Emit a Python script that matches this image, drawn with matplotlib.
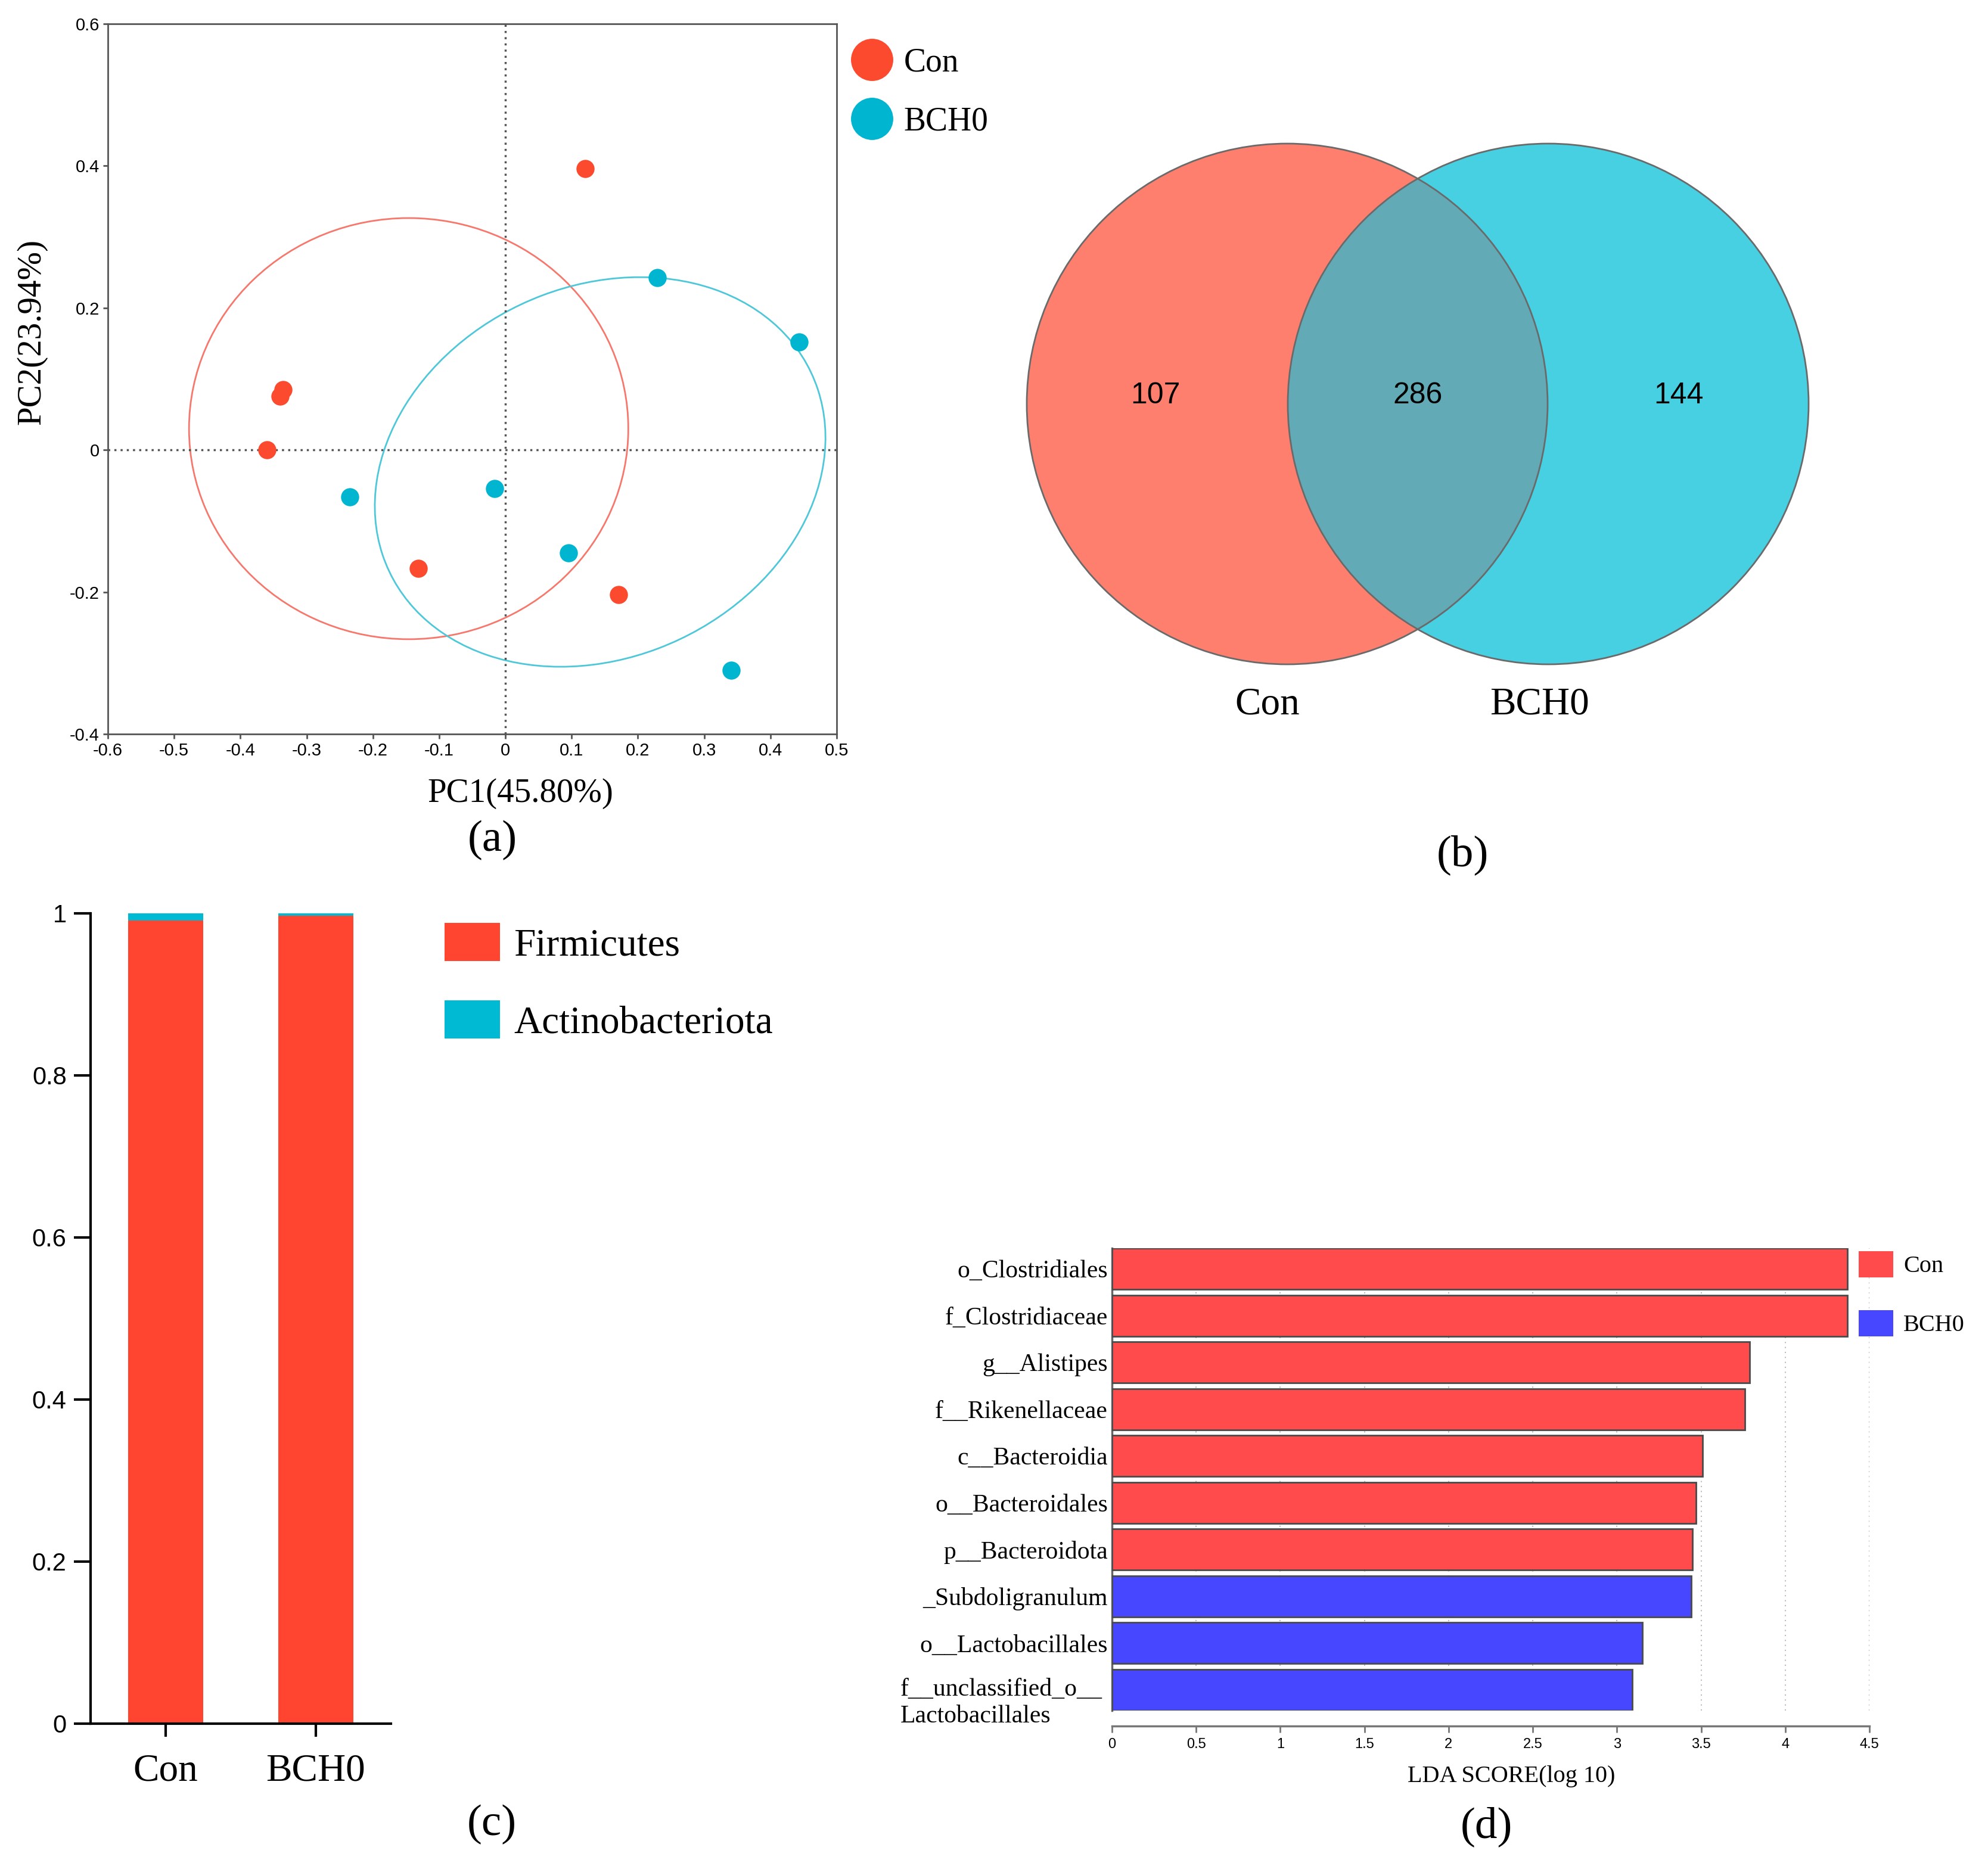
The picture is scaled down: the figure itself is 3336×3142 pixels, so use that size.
import numpy as np
import matplotlib
matplotlib.use("Agg")
import matplotlib.pyplot as plt
from matplotlib.patches import Ellipse, Circle, Patch
from matplotlib.lines import Line2D

plt.rcParams["font.family"] = ["Liberation Serif", "DejaVu Serif"]
SANS = ["Liberation Sans", "DejaVu Sans"]

# ---- data ----
groups = ["Con", "BCH0"]

# (a) PCoA scores
con_pc1 = [0.120, -0.336, -0.340, -0.360, -0.131, 0.171]
con_pc2 = [0.396, 0.085, 0.076, 0.000, -0.167, -0.204]
bch_pc1 = [0.229, 0.443, -0.235, -0.016, 0.095, 0.341]
bch_pc2 = [0.243, 0.152, -0.066, -0.054, -0.145, -0.310]
# confidence ellipses: centre x, centre y, width, height, angle
con_ell = (-0.146, 0.030, 0.663, 0.593, 0.0)
bch_ell = (0.143, -0.031, 0.697, 0.527, 19.5)

# (b) venn counts
venn_only_con = 107
venn_shared = 286
venn_only_bch = 144

# (c) phylum relative abundance
phyla = ["Firmicutes", "Actinobacteriota"]
firmicutes = [0.991, 0.997]
actino = [0.009, 0.003]

# (d) LEfSe
lda_taxa = ["o_Clostridiales", "f_Clostridiaceae", "g__Alistipes", "f__Rikenellaceae",
            "c__Bacteroidia", "o__Bacteroidales", "p__Bacteroidota", "_Subdoligranulum",
            "o__Lactobacillales", "f__unclassified_o__\nLactobacillales"]
lda_score = [4.37, 4.37, 3.79, 3.76, 3.51, 3.47, 3.45, 3.44, 3.15, 3.09]
lda_group = ["Con"] * 7 + ["BCH0"] * 3

W, H = 3336, 3142
fig = plt.figure(figsize=(W / 100, H / 100), dpi=100)


def box(l, t, r, b):
    return [l / W, 1 - b / H, (r - l) / W, (b - t) / H]


# ---------------- (a) ----------------
RED_PT = "#fb4a2e"
CYAN_PT = "#00b5cf"
ax = fig.add_axes(box(181, 40, 1404, 1232))
for (cx, cy, w, h, ang), col in [(con_ell, "#f6776c"), (bch_ell, "#4ec7d9")]:
    ax.add_patch(Ellipse((cx, cy), w, h, angle=ang, fill=False, ec=col, lw=2))
ax.axhline(0, color="#555555", ls=(0, (1, 2)), lw=2.5, zorder=1)
ax.axvline(0, color="#555555", ls=(0, (1, 2)), lw=2.5, zorder=1)
ax.scatter(con_pc1, con_pc2, s=480, color=RED_PT, zorder=3, lw=0)
ax.scatter(bch_pc1, bch_pc2, s=480, color=CYAN_PT, zorder=3, lw=0)
ax.set_xlim(-0.6, 0.5)
ax.set_ylim(-0.4, 0.6)
ax.set_xticks(np.arange(-0.6, 0.51, 0.1))
ax.set_yticks(np.arange(-0.4, 0.61, 0.2))
ax.set_xticklabels(["-0.6", "-0.5", "-0.4", "-0.3", "-0.2", "-0.1", "0", "0.1", "0.2", "0.3", "0.4", "0.5"])
ax.set_yticklabels(["-0.4", "-0.2", "0", "0.2", "0.4", "0.6"])
for s in ax.spines.values():
    s.set_color("#555555")
    s.set_linewidth(2)
ax.tick_params(length=6, width=2, color="#555555", labelsize=21, pad=4)
for t in ax.get_xticklabels() + ax.get_yticklabels():
    t.set_family(SANS)
handles = [Line2D([], [], ls="", marker="o", ms=50, color=RED_PT, mec=RED_PT),
           Line2D([], [], ls="", marker="o", ms=50, color=CYAN_PT, mec=CYAN_PT)]
ax.legend(handles, groups, loc="upper left", bbox_to_anchor=(1428 / W, 1 - 79 / H),
          bbox_transform=fig.transFigure, frameon=False, fontsize=40, borderpad=0,
          handlelength=1.25, handletextpad=0.35, labelspacing=0.85, borderaxespad=0)
fig.text(873 / W, 1 - 1332 / H, "PC1(45.80%)", ha="center", va="center", fontsize=41)
fig.text(53 / W, 1 - 557 / H, "PC2(23.94%)", ha="center", va="center", fontsize=41, rotation=90)
fig.text(826 / W, 1 - 1410 / H, "(a)", ha="center", va="center", fontsize=54)

# ---------------- (b) ----------------
axb = fig.add_axes(box(1700, 200, 3100, 1500))
axb.set_xlim(0, 1400)
axb.set_ylim(1300, 0)
axb.axis("off")
R, D = 437, 438
cx0, cy0 = 460, 478
c_left = Circle((cx0, cy0), R, fc="#ff7f6e", ec="none")
c_right = Circle((cx0 + D, cy0), R, fc="#47cfe2", ec="none")
axb.add_patch(c_left)
axb.add_patch(c_right)
lens = Circle((cx0 + D, cy0), R, fc="#62abb6", ec="none")
axb.add_patch(lens)
lens.set_clip_path(c_left)
for x in (cx0, cx0 + D):
    axb.add_patch(Circle((x, cy0), R, fill=False, ec="#6a6a6a", lw=2))
for x, v in [(cx0 - D / 2 - 2, venn_only_con), (cx0 + D / 2, venn_shared), (cx0 + 1.5 * D, venn_only_bch)]:
    axb.text(x, cy0 - 14, str(v), ha="center", va="center", fontsize=36, family=SANS)
axb.text(427, 983, groups[0], ha="center", va="center", fontsize=47)
axb.text(884, 983, groups[1], ha="center", va="center", fontsize=47)
fig.text(2454 / W, 1 - 1435 / H, "(b)", ha="center", va="center", fontsize=54)

# ---------------- (c) ----------------
axc = fig.add_axes(box(152, 1533, 656, 2893))
xc = np.arange(len(groups))
axc.bar(xc, firmicutes, width=0.5, color="#ff4530", label=phyla[0])
axc.bar(xc, actino, width=0.5, bottom=firmicutes, color="#00b9d3", label=phyla[1])
axc.set_xlim(-0.5, 1.5)
axc.set_ylim(0, 1)
axc.set_xticks(xc)
axc.set_xticklabels(groups, fontsize=47)
axc.set_yticks([0, 0.2, 0.4, 0.6, 0.8, 1])
axc.set_yticklabels(["0", "0.2", "0.4", "0.6", "0.8", "1"], fontsize=30, family=SANS)
for s in ["top", "right"]:
    axc.spines[s].set_visible(False)
for s in ["left", "bottom"]:
    axc.spines[s].set_linewidth(3)
axc.tick_params(axis="y", length=20, width=3, pad=9)
axc.tick_params(axis="x", length=16, width=3, pad=20)
axc.legend(loc="upper left", bbox_to_anchor=(746 / W, 1 - 1549 / H), bbox_transform=fig.transFigure,
           frameon=False, fontsize=47, borderpad=0, borderaxespad=0, handlelength=1.43,
           handleheight=1.13, handletextpad=0.35, labelspacing=0.95)
fig.text(825 / W, 1 - 3062 / H, "(c)", ha="center", va="center", fontsize=54)

# ---------------- (d) ----------------
axd = fig.add_axes(box(1866, 2095, 3137, 2871))
# spine position first: moving a spine resets the ticks
for s in ["top", "right"]:
    axd.spines[s].set_visible(False)
axd.spines["bottom"].set_position(("outward", 19))
axd.spines["left"].set_linewidth(2.5)
axd.spines["left"].set_color("#666666")
axd.spines["bottom"].set_linewidth(2.5)
axd.spines["bottom"].set_color("#777777")

yd = np.arange(len(lda_taxa))
cols = {"Con": "#ff4b4b", "BCH0": "#4747ff"}
axd.barh(yd, lda_score, height=0.88, color=[cols[g] for g in lda_group], ec="#4a4a4a", lw=2, zorder=3)
axd.set_xlim(0, 4.5)
axd.set_ylim(len(lda_taxa) - 1 + 0.44, -0.44)
axd.set_xticks(np.arange(0, 4.51, 0.5))
axd.set_xticklabels(["0", "0.5", "1", "1.5", "2", "2.5", "3", "3.5", "4", "4.5"], fontsize=17, family=SANS)
axd.grid(axis="x", color="#bbbbbb", ls=(0, (1, 3)), lw=1.5, zorder=0)
axd.set_yticks(yd)
axd.set_yticklabels(lda_taxa[:-1] + [""], fontsize=30)
axd.annotate(lda_taxa[-1], xy=(0, yd[-1]), xycoords=("axes fraction", "data"),
             xytext=(-256, 14), textcoords="offset points", ha="left", va="top", fontsize=30)
axd.tick_params(axis="y", length=0, pad=5)
axd.tick_params(axis="x", length=8, width=2, color="#777777", pad=6)
dh = [Patch(fc=cols[g], ec="none") for g in groups]
axd.legend(dh, groups, loc="upper left", bbox_to_anchor=(3119 / W, 1 - 2100 / H), bbox_transform=fig.transFigure,
           frameon=False, fontsize=29, borderpad=0, borderaxespad=0, handlelength=1.45,
           handleheight=1.3, handletextpad=0.42, labelspacing=1.35)
fig.text(2536 / W, 1 - 2981 / H, "LDA SCORE(log 10)", ha="center", va="center", fontsize=29)
fig.text(2494 / W, 1 - 3066 / H, "(d)", ha="center", va="center", fontsize=54)

fig.savefig("out.png", dpi=100)
